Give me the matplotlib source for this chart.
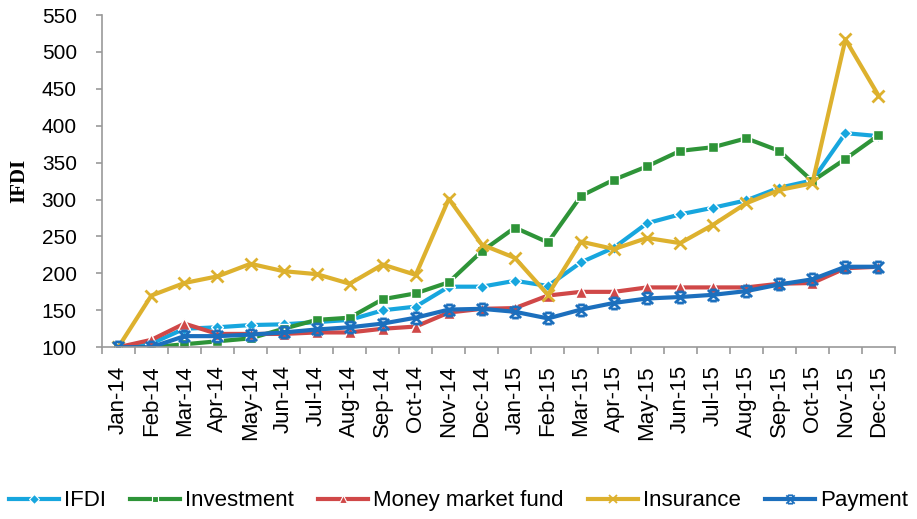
import numpy as np
import matplotlib
matplotlib.use("Agg")
import matplotlib.pyplot as plt
from matplotlib.path import Path

months = ["Jan-14", "Feb-14", "Mar-14", "Apr-14", "May-14", "Jun-14", "Jul-14", "Aug-14",
          "Sep-14", "Oct-14", "Nov-14", "Dec-14", "Jan-15", "Feb-15", "Mar-15", "Apr-15",
          "May-15", "Jun-15", "Jul-15", "Aug-15", "Sep-15", "Oct-15", "Nov-15", "Dec-15"]

ifdi = [100, 105, 125, 127, 130, 131, 134, 137, 150, 155, 182, 182,
        190, 183, 215, 235, 268, 280, 289, 299, 316, 326, 390, 386]
investment = [100, 100, 104, 108, 112, 125, 137, 140, 165, 173, 188, 230,
              262, 242, 305, 327, 345, 366, 371, 383, 366, 325, 355, 387]
money_market = [100, 110, 132, 118, 118, 118, 120, 120, 125, 128, 147, 152,
                153, 170, 175, 175, 181, 181, 181, 181, 186, 187, 207, 209]
insurance = [100, 170, 187, 196, 213, 203, 199, 186, 212, 198, 301, 239,
             221, 171, 243, 233, 248, 241, 266, 295, 313, 322, 517, 441]
payment = [100, 100, 115, 115, 117, 120, 124, 127, 132, 140, 151, 152,
           148, 139, 151, 160, 166, 168, 171, 176, 185, 192, 209, 209]

plt.rcParams['font.family'] = ['Liberation Sans', 'DejaVu Sans']

# x with a bar on top and bottom, like the Excel "star" marker
star_path = Path([(-1, -1), (1, 1), (-1, 1), (1, -1), (-0.6, 1), (0.6, 1), (-0.6, -1), (0.6, -1)],
                 [Path.MOVETO, Path.LINETO, Path.MOVETO, Path.LINETO,
                  Path.MOVETO, Path.LINETO, Path.MOVETO, Path.LINETO])

fig = plt.figure(figsize=(9.17, 5.19), dpi=100)
ax = fig.add_axes([0.111, 0.331, 0.865, 0.640])

x = np.arange(len(months))

ax.plot(x, ifdi, color="#17A6DE", lw=3, marker="D", ms=6, mec="white", mew=1, label="IFDI")
ax.plot(x, investment, color="#2E9438", lw=3, marker="s", ms=7, mec="white", mew=1, label="Investment")
ax.plot(x, money_market, color="#D04848", lw=3, marker="^", ms=8, mec="white", mew=1,
        label="Money market fund")
ax.plot(x, insurance, color="#DDB12E", lw=3, marker="x", ms=9, mew=2, label="Insurance")
ax.plot(x, payment, color="#1C6FBD", lw=3, marker=star_path, ms=8, mew=2, mec="#1C6FBD",
        mfc="none", label="Payment")

ax.set_xlim(-0.5, len(months) - 0.5)
ax.set_ylim(100, 550)
ax.set_yticks(np.arange(100, 551, 50))
ax.set_xticks(x)
ax.set_xticklabels(months, rotation=90, fontsize=16)
ax.set_xticks(np.arange(-0.5, len(months), 1), minor=True)
ax.tick_params(axis="x", which="major", length=0, pad=13)
ax.tick_params(axis="x", which="minor", length=5, color="#999999", width=1.2)
ax.tick_params(axis="y", labelsize=15, length=4, color="#999999", width=1.2, pad=14)

for s in ["top", "right"]:
    ax.spines[s].set_visible(False)
for s in ["left", "bottom"]:
    ax.spines[s].set_color("#999999")
    ax.spines[s].set_linewidth(1.2)

ax.set_ylabel("IFDI", fontsize=15, fontweight="bold", family="Liberation Serif")
ax.yaxis.set_label_coords(-0.092, 0.5)

leg = fig.legend(loc="center", bbox_to_anchor=(0.5, 0.035), ncol=5, frameon=False,
                 fontsize=16, handlelength=2.25, handletextpad=0.22, columnspacing=1.1,
                 borderaxespad=0)
# smaller, thinner markers in the legend keys
for h, ms, mew in zip(leg.legend_handles, [5, 5, 6, 6, 6], [0.8, 0.8, 0.8, 1.3, 1.3]):
    h.set_markersize(ms)
    h.set_markeredgewidth(mew)

fig.savefig("out.png", dpi=100)
